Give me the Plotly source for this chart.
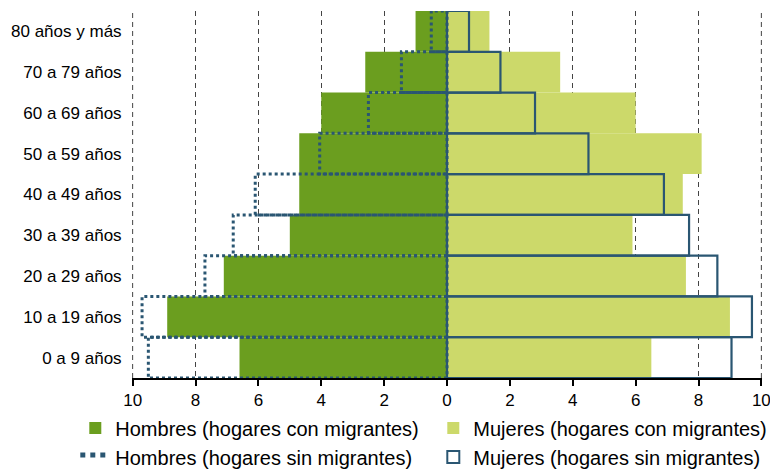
import plotly.graph_objects as go

categorias = ["0 a 9 años", "10 a 19 años", "20 a 29 años", "30 a 39 años", "40 a 49 años",
              "50 a 59 años", "60 a 69 años", "70 a 79 años", "80 años y más"]
hombres_con = [6.6, 8.9, 7.1, 5.0, 4.7, 4.7, 4.0, 2.6, 1.0]
hombres_sin = [9.5, 9.7, 7.7, 6.8, 6.1, 4.05, 2.5, 1.45, 0.5]
mujeres_con = [6.5, 9.0, 7.6, 5.9, 7.5, 8.1, 6.0, 3.6, 1.35]
mujeres_sin = [9.05, 9.7, 8.6, 7.7, 6.9, 4.5, 2.8, 1.7, 0.7]
x_ticks = [-10, -8, -6, -4, -2, 0, 2, 4, 6, 8, 10]
x_ticktext = [str(abs(v)) for v in x_ticks]

VERDE = "#6b9e1f"
VERDE_CLARO = "#ccd96a"
AZUL = "#2a5672"
FONT = "Liberation Sans, Arial, sans-serif"

pos = list(range(len(categorias)))

# dotted outline path for men without migrants, built from the data
px_, py_ = [], []
for i, v in zip(pos, hombres_sin):
    px_ += [0, -v, -v, 0, 0, None]
    py_ += [i - 0.5, i - 0.5, i + 0.5, i + 0.5, i - 0.5, None]

fig = go.Figure()
fig.add_trace(go.Bar(
    y=pos, x=[-v for v in hombres_con], orientation="h", width=1,
    marker=dict(color=VERDE, line=dict(width=0)),
    name="Hombres (hogares con migrantes)"))
fig.add_trace(go.Bar(
    y=pos, x=mujeres_con, orientation="h", width=1,
    marker=dict(color=VERDE_CLARO, line=dict(width=0)),
    name="Mujeres (hogares con migrantes)"))
fig.add_trace(go.Scatter(
    x=px_, y=py_, mode="lines", fill="toself", fillcolor="rgba(0,0,0,0)",
    line=dict(color=AZUL, width=3, dash="dot"),
    name="Hombres (hogares sin migrantes)"))
fig.add_trace(go.Bar(
    y=pos, x=mujeres_sin, orientation="h", width=1,
    marker=dict(color="rgba(0,0,0,0)", line=dict(color=AZUL, width=2.2)),
    name="Mujeres (hogares sin migrantes)"))

# dashed gridlines at the two range ends (Plotly omits edge gridlines)
for xv in (x_ticks[0], x_ticks[-1]):
    fig.add_shape(type="line", xref="x", yref="paper", x0=xv, x1=xv, y0=0, y1=1,
                  line=dict(color="#444444", width=1, dash="5px,4px"), layer="below")

fig.update_layout(
    width=770, height=469,
    margin=dict(l=132, r=8, t=11, b=91, autoexpand=False),
    barmode="overlay",
    plot_bgcolor="white", paper_bgcolor="white",
    font=dict(family=FONT, size=17, color="black"),
    showlegend=True,
    legend=dict(orientation="h", x=-0.09, xanchor="left", y=-0.083, yanchor="top",
                entrywidth=313, entrywidthmode="pixels", traceorder="normal",
                font=dict(size=20), tracegroupgap=0, itemsizing="constant"),
    xaxis=dict(range=[-10.02, 10.02], tickvals=x_ticks, ticktext=x_ticktext,
               showgrid=True, gridcolor="#444444", gridwidth=1, griddash="5px,4px",
               zeroline=True, zerolinecolor="black", zerolinewidth=2,
               showline=True, linecolor="black", linewidth=1.5,
               ticks="outside", ticklen=6, tickcolor="black", tickwidth=1.5,
               tickfont=dict(size=17), ticklabeloverflow="allow"),
    yaxis=dict(range=[-0.5, 8.5], tickvals=pos, ticktext=categorias,
               showgrid=False, zeroline=False, showline=False,
               ticks="outside", ticklen=6, tickcolor="rgba(0,0,0,0)",
               tickfont=dict(size=17)),
)
fig.write_html("out.html", config={"displayModeBar": False},
               post_script="document.body.style.margin='0';")
